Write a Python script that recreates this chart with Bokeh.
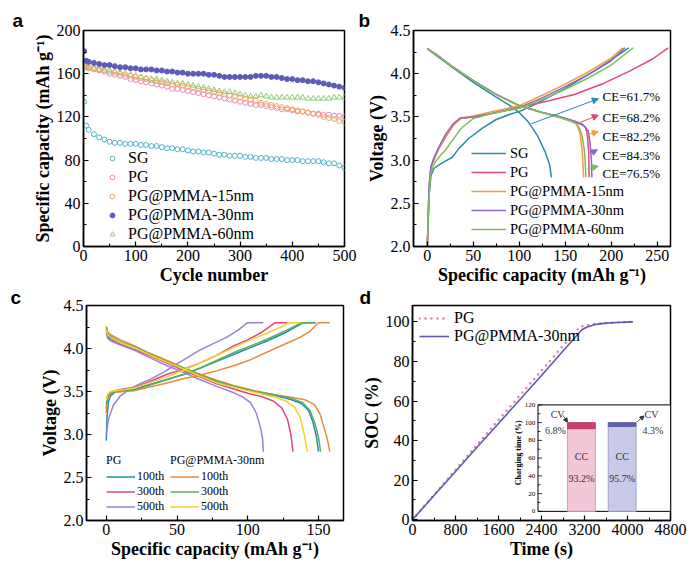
import math
from bokeh.plotting import figure
from bokeh.layouts import column, row
from bokeh.models import (Range1d, Legend, LegendItem, Arrow, NormalHead, Title,
                          SingleIntervalTicker, NumeralTickFormatter)
from bokeh.embed import file_html
from bokeh.resources import INLINE
from bokeh.core.properties import value

SERIF = "Liberation Serif"
SANS = "Liberation Sans"

# ---------------- panel a data ----------------
cycles = [1, 5] + list(range(10, 501, 10))
cap_sg = [134, 112, 108, 104, 101, 99, 97, 96, 96, 95, 95, 95, 94, 94, 93, 93, 92, 91, 91, 90, 90, 89,
          88, 88, 87, 87, 86, 85, 85, 84, 84, 84, 83, 83, 82, 82, 82, 81, 81, 81, 80, 80, 80, 79, 79,
          79, 79, 78, 77, 77, 75, 73]
cap_pg = [168, 166, 165, 164, 163, 162, 160, 159, 158, 157, 155, 154, 153, 152, 151, 150, 149, 148, 146,
          146, 145, 144, 143, 142, 141, 140, 139, 138, 137, 136, 135, 134, 133, 132, 131, 131, 130, 129,
          128, 127, 127, 126, 125, 125, 124, 123, 123, 122, 122, 121, 121, 120]
cap_15 = [172, 167, 166, 165, 164, 163, 162, 161, 160, 159, 158, 157, 156, 155, 154, 153, 152, 151, 150,
          150, 149, 148, 147, 146, 145, 144, 143, 142, 141, 140, 139, 138, 137, 136, 135, 133, 132, 131,
          130, 129, 128, 127, 126, 125, 124, 123, 122, 120, 119, 118, 116, 115]
cap_30 = [181, 172, 171, 170, 169, 168, 168, 167, 166, 166, 165, 165, 164, 164, 164, 163, 163, 162, 162,
          161, 161, 160, 160, 160, 160, 159, 159, 158, 157, 157, 157, 157, 157, 157, 158, 158, 158, 157,
          157, 156, 155, 155, 154, 154, 153, 153, 152, 151, 150, 149, 148, 147]
cap_60 = [170, 167, 166, 165, 164, 164, 163, 162, 161, 160, 159, 158, 157, 156, 155, 155, 154, 153, 152,
          151, 151, 150, 149, 148, 147, 146, 145, 144, 143, 143, 142, 141, 140, 139, 139, 140, 139, 138,
          138, 138, 138, 138, 138, 138, 137, 137, 137, 137, 137, 138, 138, 138]
series_a = ["SG", "PG", "PG@PMMA-15nm", "PG@PMMA-30nm", "PG@PMMA-60nm"]

# ---------------- panel b data ----------------
b_chg_x = {
    "SG": [0, 1, 2, 4, 7, 12, 20, 27, 34, 45, 60, 75, 90, 102, 120, 150, 180, 200, 219],
    "PG": [0, 1, 2, 4, 7, 12, 20, 28, 36, 50, 70, 100, 130, 160, 190, 220, 245, 262],
    "PG@PMMA-15nm": [0, 1, 2, 4, 7, 12, 20, 28, 36, 50, 70, 100, 125, 150, 175, 200, 213],
    "PG@PMMA-30nm": [0, 1, 2, 4, 7, 12, 20, 28, 36, 50, 70, 100, 125, 150, 175, 200, 215],
    "PG@PMMA-60nm": [0, 1, 2, 4, 8, 14, 20, 28, 38, 50, 70, 100, 125, 150, 175, 200, 224],
}
b_chg_v = {
    "SG": [2.0, 2.3, 2.6, 2.82, 2.9, 2.94, 2.99, 3.03, 3.13, 3.25, 3.37, 3.47, 3.53, 3.57, 3.66, 3.83, 4.02, 4.16, 4.3],
    "PG": [2.0, 2.35, 2.7, 2.92, 3.0, 3.12, 3.27, 3.4, 3.48, 3.5, 3.54, 3.61, 3.68, 3.76, 3.88, 4.03, 4.17, 4.3],
    "PG@PMMA-15nm": [2.0, 2.35, 2.7, 2.92, 3.0, 3.12, 3.28, 3.4, 3.48, 3.51, 3.56, 3.63, 3.75, 3.88, 4.02, 4.18, 4.3],
    "PG@PMMA-30nm": [2.0, 2.35, 2.7, 2.93, 3.02, 3.14, 3.3, 3.42, 3.49, 3.5, 3.54, 3.61, 3.72, 3.85, 3.99, 4.15, 4.3],
    "PG@PMMA-60nm": [2.0, 2.3, 2.6, 2.85, 2.97, 3.05, 3.12, 3.24, 3.38, 3.48, 3.54, 3.6, 3.7, 3.82, 3.95, 4.1, 4.3],
}
b_dis_x = {
    "SG": [0, 10, 25, 50, 75, 90, 100, 110, 120, 128, 133, 135],
    "PG": [0, 10, 25, 50, 75, 100, 125, 145, 160, 168, 172, 174, 175.5, 176],
    "PG@PMMA-15nm": [0, 10, 25, 50, 75, 100, 125, 145, 156, 162, 166, 168.5, 170],
    "PG@PMMA-30nm": [0, 10, 25, 50, 75, 100, 125, 145, 160, 170, 175, 177, 178.5, 179],
    "PG@PMMA-60nm": [0, 10, 25, 50, 75, 100, 125, 145, 157, 163, 168, 171, 172.5],
}
b_dis_v = {
    "SG": [4.29, 4.21, 4.09, 3.9, 3.73, 3.63, 3.55, 3.44, 3.28, 3.1, 2.95, 2.8],
    "PG": [4.29, 4.22, 4.1, 3.92, 3.76, 3.63, 3.55, 3.5, 3.45, 3.42, 3.38, 3.3, 3.1, 2.8],
    "PG@PMMA-15nm": [4.29, 4.22, 4.1, 3.92, 3.76, 3.63, 3.55, 3.49, 3.45, 3.42, 3.32, 3.1, 2.8],
    "PG@PMMA-30nm": [4.29, 4.22, 4.1, 3.92, 3.76, 3.63, 3.55, 3.5, 3.45, 3.4, 3.34, 3.2, 3.0, 2.8],
    "PG@PMMA-60nm": [4.29, 4.22, 4.1, 3.92, 3.76, 3.63, 3.55, 3.49, 3.45, 3.42, 3.3, 3.1, 2.8],
}
ce_values = [61.7, 68.2, 82.2, 84.3, 76.5]

# ---------------- panel c data ----------------
c_series = ["PG 100th", "PG 300th", "PG 500th", "PMMA 100th", "PMMA 300th", "PMMA 500th"]
c_chg_x = {
    "PG 100th": [0, 0.5, 1.5, 3, 6, 12, 20, 30, 43, 55, 66, 78, 90, 102, 114, 126, 139.4, 148],
    "PG 300th": [0, 0.5, 1.5, 3, 6, 12, 20, 30, 43, 55, 66, 78, 90, 100, 109, 119.4, 128],
    "PG 500th": [0, 1, 2, 5, 10, 15, 20, 25, 31, 40, 48, 57, 66, 76, 85, 93, 99.8, 111],
    "PMMA 100th": [0, 0.5, 1.5, 3, 6, 12, 20, 30, 43, 55, 66, 78, 90, 102, 114, 126, 137, 144, 150, 158],
    "PMMA 300th": [0, 0.5, 1.5, 3, 6, 12, 20, 30, 43, 55, 66, 78, 90, 102, 114, 126, 138, 146],
    "PMMA 500th": [0, 0.5, 1.5, 3, 6, 12, 20, 30, 43, 55, 66, 78, 90, 102, 114, 122, 130, 138],
}
c_chg_v = {
    "PG 100th": [2.93, 3.2, 3.38, 3.45, 3.49, 3.51, 3.53, 3.58, 3.64, 3.7, 3.77, 3.85, 3.93, 4.01, 4.09, 4.18, 4.3, 4.3],
    "PG 300th": [3.3, 3.4, 3.46, 3.49, 3.51, 3.53, 3.55, 3.61, 3.7, 3.76, 3.83, 3.92, 4.03, 4.1, 4.18, 4.3, 4.3],
    "PG 500th": [3.0, 3.12, 3.2, 3.34, 3.45, 3.51, 3.56, 3.6, 3.64, 3.72, 3.8, 3.89, 3.98, 4.06, 4.13, 4.21, 4.3, 4.3],
    "PMMA 100th": [3.25, 3.38, 3.44, 3.47, 3.49, 3.5, 3.51, 3.55, 3.6, 3.65, 3.69, 3.74, 3.8, 3.87, 3.96, 4.05, 4.13, 4.2, 4.3, 4.3],
    "PMMA 300th": [3.35, 3.42, 3.46, 3.48, 3.5, 3.51, 3.52, 3.57, 3.64, 3.7, 3.77, 3.86, 3.95, 4.03, 4.11, 4.2, 4.3, 4.3],
    "PMMA 500th": [3.4, 3.45, 3.48, 3.5, 3.51, 3.52, 3.54, 3.6, 3.67, 3.75, 3.83, 3.92, 4.01, 4.1, 4.18, 4.24, 4.3, 4.3],
}
c_dis_x = {
    "PG 100th": [0, 1, 3, 10, 20, 30, 43, 55, 66, 78, 90, 105, 120, 130, 138, 143, 146, 148.5, 150],
    "PG 300th": [0, 1, 3, 10, 20, 30, 43, 55, 66, 78, 90, 100, 110, 118, 124, 128, 130.5, 132],
    "PG 500th": [0, 1, 3, 10, 20, 30, 43, 55, 66, 78, 88, 96, 102, 106, 109, 110.5, 111],
    "PMMA 100th": [0, 1, 3, 10, 20, 30, 43, 55, 66, 78, 90, 105, 120, 132, 141, 147, 151, 154, 156.5, 158],
    "PMMA 300th": [0, 1, 3, 10, 20, 30, 43, 55, 66, 78, 90, 105, 120, 131, 139, 144, 147.5, 150, 151.5],
    "PMMA 500th": [0, 1, 3, 10, 20, 30, 43, 55, 66, 78, 90, 105, 118, 127, 133, 137, 140, 142],
}
c_dis_v = {
    "PG 100th": [4.22, 4.15, 4.12, 4.07, 4.02, 3.94, 3.85, 3.77, 3.7, 3.62, 3.56, 3.5, 3.45, 3.41, 3.36, 3.28, 3.15, 2.98, 2.8],
    "PG 300th": [4.2, 4.13, 4.1, 4.05, 3.99, 3.92, 3.83, 3.74, 3.67, 3.59, 3.53, 3.48, 3.44, 3.39, 3.31, 3.18, 3.0, 2.8],
    "PG 500th": [4.18, 4.12, 4.09, 4.04, 3.98, 3.9, 3.8, 3.72, 3.64, 3.56, 3.5, 3.44, 3.37, 3.25, 3.08, 2.95, 2.8],
    "PMMA 100th": [4.26, 4.19, 4.16, 4.1, 4.03, 3.95, 3.86, 3.77, 3.7, 3.63, 3.57, 3.51, 3.46, 3.43, 3.4, 3.35, 3.24, 3.08, 2.93, 2.8],
    "PMMA 300th": [4.24, 4.17, 4.14, 4.08, 4.02, 3.94, 3.85, 3.77, 3.69, 3.62, 3.56, 3.5, 3.46, 3.42, 3.37, 3.28, 3.13, 2.97, 2.8],
    "PMMA 500th": [4.22, 4.16, 4.13, 4.07, 4.01, 3.93, 3.84, 3.76, 3.68, 3.6, 3.55, 3.49, 3.44, 3.39, 3.32, 3.2, 3.0, 2.8],
}
cycle_labels = ["100th", "300th", "500th"]

# ---------------- panel d data ----------------
pg_t = [0, 400, 800, 1200, 1600, 2000, 2400, 2800, 3120, 3250, 3400, 3600, 3800, 4000, 4150]
pg_soc = [0, 12.6, 25.2, 37.8, 50.4, 62.9, 75.4, 87.9, 97.6, 98.4, 99.0, 99.4, 99.7, 99.9, 100]
pm_t = [0, 400, 800, 1200, 1600, 2000, 2400, 2800, 3150, 3250, 3350, 3450, 3600, 3800, 4000, 4100]
pm_soc = [0, 12.2, 24.4, 36.6, 48.6, 60.8, 72.9, 85.3, 96.0, 97.4, 98.3, 98.9, 99.4, 99.7, 99.9, 100]
inset_names = ["PG", "PG@PMMA-30nm"]
cc_pct = [93.2, 95.7]
cv_pct = [6.8, 4.3]
inset_ticks = [0, 20, 40, 60, 80, 100, 120]

# ---------------- colours ----------------
CA = {"SG": "#4FB3C9", "PG": "#E58BBE", "PG@PMMA-15nm": "#F3A85C",
      "PG@PMMA-30nm": "#5C5CB8", "PG@PMMA-60nm": "#91CC78"}
CB = {"SG": "#2A8AA8", "PG": "#E3467E", "PG@PMMA-15nm": "#F39A3A",
      "PG@PMMA-30nm": "#8B66CC", "PG@PMMA-60nm": "#7CBF5C"}
CC = {"PG 100th": "#1F8FAA", "PG 300th": "#E0457C", "PG 500th": "#9C82D4",
      "PMMA 100th": "#E88A3A", "PMMA 300th": "#5DAE5A", "PMMA 500th": "#F2D22A"}
PG_D = "#E57BA7"
PM_D = "#5B5BAE"


def base_fig(w, h, xr, yr, ml, mr, mt, mb, letter, offset, standoff):
    p = figure(width=w, height=h, x_range=xr, y_range=yr, output_backend="svg",
               toolbar_location=None, min_border_left=ml, min_border_right=mr,
               min_border_top=mt, min_border_bottom=mb)
    p.title = Title(text=letter, align="left", offset=offset, standoff=standoff,
                    text_font=SANS, text_font_style="bold", text_font_size="19px",
                    text_color="black")
    p.grid.visible = False
    p.outline_line_color = "black"
    p.outline_line_width = 1.5
    p.outline_line_alpha = 1.0
    p.background_fill_color = "white"
    p.border_fill_color = "white"
    return p


def style_axes(p, xlabel, ylabel, xint, yint, yfmt=None):
    p.xaxis.ticker = SingleIntervalTicker(interval=xint, num_minor_ticks=2)
    p.yaxis.ticker = SingleIntervalTicker(interval=yint, num_minor_ticks=2)
    if yfmt:
        p.yaxis.formatter = NumeralTickFormatter(format=yfmt)
    p.xaxis.axis_label = xlabel
    p.yaxis.axis_label = ylabel
    for ax in list(p.xaxis) + list(p.yaxis):
        ax.axis_label_text_font = SERIF
        ax.axis_label_text_font_style = "bold"
        ax.axis_label_text_font_size = "18px"
        ax.axis_label_text_color = "black"
        ax.major_label_text_font = SERIF
        ax.major_label_text_font_size = "16px"
        ax.major_label_text_color = "black"
        ax.axis_line_width = 1.5
        ax.axis_line_color = "black"
        ax.major_tick_in = 5
        ax.major_tick_out = 0
        ax.minor_tick_in = 3
        ax.minor_tick_out = 0
        ax.major_tick_line_color = "black"
        ax.minor_tick_line_color = "black"
        ax.major_tick_line_width = 1.2
        ax.major_label_standoff = 3
        ax.axis_label_standoff = 1


def style_legend(leg, fs, gw, gh, lh, standoff, spacing):
    leg.label_text_font = SERIF
    leg.label_text_font_size = fs
    leg.label_text_color = "black"
    leg.glyph_width = gw
    leg.glyph_height = gh
    leg.label_height = lh
    leg.label_standoff = standoff
    leg.spacing = spacing
    leg.padding = 0
    leg.margin = 0
    leg.background_fill_alpha = 0
    leg.border_line_alpha = 0


# ================= panel a =================
pa = base_fig(358, 287, Range1d(0, 500), Range1d(0, 200), 83, 14, 28, 40, "a", -71, -1)
style_axes(pa, "Cycle number", "Specific capacity (mAh g\u207b\u00b9)", 100, 40)
vals_a = {"SG": cap_sg, "PG": cap_pg, "PG@PMMA-15nm": cap_15,
          "PG@PMMA-30nm": cap_30, "PG@PMMA-60nm": cap_60}
rend_a = {}
for name in ["SG", "PG", "PG@PMMA-60nm", "PG@PMMA-15nm", "PG@PMMA-30nm"]:
    col = CA[name]
    if name == "PG@PMMA-30nm":
        r = pa.scatter(cycles, vals_a[name], marker="circle", size=5, fill_color=col,
                       line_color=col, line_width=1)
    elif name == "PG@PMMA-60nm":
        r = pa.scatter(cycles, vals_a[name], marker="triangle", size=5.5, fill_color=None,
                       line_color=col, line_width=1)
    else:
        r = pa.scatter(cycles, vals_a[name], marker="circle", size=5, fill_color=None,
                       line_color=col, line_width=1)
    rend_a[name] = r
leg_a = Legend(items=[LegendItem(label=n, renderers=[rend_a[n]]) for n in series_a],
               location=(23, 3))
style_legend(leg_a, "16px", 12, 18, 18, 10, 1)
pa.add_layout(leg_a)

# ================= panel b =================
pb = base_fig(332, 287, Range1d(-15, 264.5), Range1d(2.0, 4.5), 55, 20, 30, 41, "b", -55, -1)
style_axes(pb, "Specific capacity (mAh g\u207b\u00b9)", "Voltage (V)", 50, 0.5, "0.0")
rend_b = {}
for name in series_a:
    col = CB[name]
    r1 = pb.line(b_chg_x[name], b_chg_v[name], line_color=col, line_width=1.5)
    pb.line(b_dis_x[name], b_dis_v[name], line_color=col, line_width=1.5)
    rend_b[name] = r1
leg_b = Legend(items=[LegendItem(label=n, renderers=[rend_b[n]]) for n in series_a],
               location=(58, 8))
style_legend(leg_b, "14.5px", 35, 18, 18, 4, 1)
pb.add_layout(leg_b)
ce_y = [3.733, 3.494, 3.269, 3.056, 2.844]
pb.text(x=[190.6] * 5, y=ce_y, text=["CE=%.1f%%" % v for v in ce_values],
        text_font=value(SERIF), text_font_size=value("13px"), text_baseline="middle",
        text_align="left", text_color="black")
arrows_b = [(113, 3.42, 186, 3.71, "SG"), (167, 3.44, 186, 3.52, "PG"),
            (173, 3.29, 186, 3.33, "PG@PMMA-15nm"), (178, 3.08, 185, 3.12, "PG@PMMA-30nm"),
            (174, 2.9, 186, 2.93, "PG@PMMA-60nm")]
for x0, y0, x1, y1, n in arrows_b:
    c = CB[n]
    pb.add_layout(Arrow(x_start=x0, y_start=y0, x_end=x1, y_end=y1, line_color=c, line_width=1,
                        end=NormalHead(size=6, fill_color=c, line_color=c)))

# ================= panel c =================
pc = base_fig(358, 285, Range1d(-14, 167.7), Range1d(2.0, 4.5), 86, 15, 16, 50, "c", -76, -5)
style_axes(pc, "Specific capacity (mAh g\u207b\u00b9)", "Voltage (V)", 50, 0.5, "0.0")
rend_c = {}
for name in c_series:
    col = CC[name]
    r1 = pc.line(c_chg_x[name], c_chg_v[name], line_color=col, line_width=1.5)
    pc.line(c_dis_x[name], c_dis_v[name], line_color=col, line_width=1.5)
    rend_c[name] = r1
for title, keys, xloc in [("PG", c_series[:3], 20), ("PG@PMMA-30nm", c_series[3:], 84)]:
    lg = Legend(items=[LegendItem(label=cycle_labels[j], renderers=[rend_c[k]])
                       for j, k in enumerate(keys)], location=(xloc, 6))
    style_legend(lg, "12px", 29, 15, 15, 2, 0)
    lg.title = title
    lg.title_text_font = SERIF
    lg.title_text_font_size = "12px"
    lg.title_text_font_style = "normal"
    lg.title_text_color = "black"
    lg.title_standoff = 1
    pc.add_layout(lg)

# ================= panel d =================
pd = base_fig(332, 285, Range1d(0, 4800), Range1d(-0.4, 108.3), 53, 20, 16, 52, "d", -53, -5)
style_axes(pd, "Time (s)", "SOC (%)", 800, 20)
r_pg = pd.line(pg_t, pg_soc, line_color=PG_D, line_width=2.5, line_dash="0 6", line_cap="round")
r_pm = pd.line(pm_t, pm_soc, line_color=PM_D, line_width=1.6)
leg_d = Legend(items=[LegendItem(label="PG", renderers=[r_pg]),
                      LegendItem(label="PG@PMMA-30nm", renderers=[r_pm])],
               location=(7, 175))
style_legend(leg_d, "16px", 30, 18, 18, 5, 0)
pd.add_layout(leg_d)

# inset drawn in its own coordinate system
pd.extra_x_ranges = {"ix": Range1d(-0.947, 1.0)}
pd.extra_y_ranges = {"iy": Range1d(-10.3, 232)}
IX = dict(x_range_name="ix", y_range_name="iy")
pd.quad(left=[0], right=[1], bottom=[0], top=[120], fill_color="white",
        line_color="black", line_width=1, **IX)
bar_x = [0.328, 0.635]
pd.vbar(x=bar_x, width=0.21, bottom=0, top=cc_pct, fill_color=["#F3C6D8", "#C8CAE8"],
        line_color=["#D89AB4", "#9EA0CC"], line_width=1, **IX)
pd.vbar(x=bar_x, width=0.21, bottom=cc_pct, top=[c + v for c, v in zip(cc_pct, cv_pct)],
        fill_color=["#C83E6C", "#5F61A8"], line_color=["#C83E6C", "#5F61A8"], line_width=1, **IX)
pd.segment(x0=[0] * len(inset_ticks), x1=[0.03] * len(inset_ticks), y0=inset_ticks,
           y1=inset_ticks, line_color="black", line_width=0.8, **IX)
minor_i = [10, 30, 50, 70, 90, 110]
pd.segment(x0=[0] * len(minor_i), x1=[0.018] * len(minor_i), y0=minor_i, y1=minor_i,
           line_color="black", line_width=0.8, **IX)
pd.text(x=[-0.02] * len(inset_ticks), y=inset_ticks, text=[str(v) for v in inset_ticks],
        text_font=value(SERIF), text_font_size=value("7px"), text_align="right",
        text_baseline="middle", text_color="black", **IX)
pd.text(x=[-0.145], y=[66], text=["Charging time (%)"], angle=math.pi / 2,
        text_font=value(SERIF), text_font_size=value("8px"), text_font_style=value("bold"),
        text_align="center", text_baseline="middle", text_color="black", **IX)
pd.text(x=bar_x, y=[62, 62], text=["CC", "CC"], text_font=value(SERIF),
        text_font_size=value("10px"), text_align="center", text_baseline="middle",
        text_color="#333333", **IX)
pd.text(x=bar_x, y=[37.4, 37.4], text=["%.1f%%" % v for v in cc_pct], text_font=value(SERIF),
        text_font_size=value("10px"), text_align="center", text_baseline="middle",
        text_color="#333333", **IX)
pd.text(x=[0.148, 0.857], y=[108.6, 108.6], text=["CV", "CV"], text_font=value(SERIF),
        text_font_size=value("10px"), text_align="center", text_baseline="middle",
        text_color="#333333", **IX)
pd.text(x=[0.132, 0.868], y=[91.4, 91.4], text=["%.1f%%" % v for v in cv_pct],
        text_font=value(SERIF), text_font_size=value("10px"), text_align="center",
        text_baseline="middle", text_color="#333333", **IX)
pd.add_layout(Arrow(x_start=0.19, y_start=108, x_end=0.222, y_end=100.5, line_color="#333333",
                    line_width=0.8, end=NormalHead(size=4, fill_color="#333333",
                                                   line_color="#333333"), **IX))
pd.add_layout(Arrow(x_start=0.745, y_start=100.5, x_end=0.80, y_end=107.5, line_color="#333333",
                    line_width=0.8, end=NormalHead(size=4, fill_color="#333333",
                                                   line_color="#333333"), **IX))

layout = column(row(pa, pb), row(pc, pd))
open("out.html", "w").write(file_html(layout, INLINE))
